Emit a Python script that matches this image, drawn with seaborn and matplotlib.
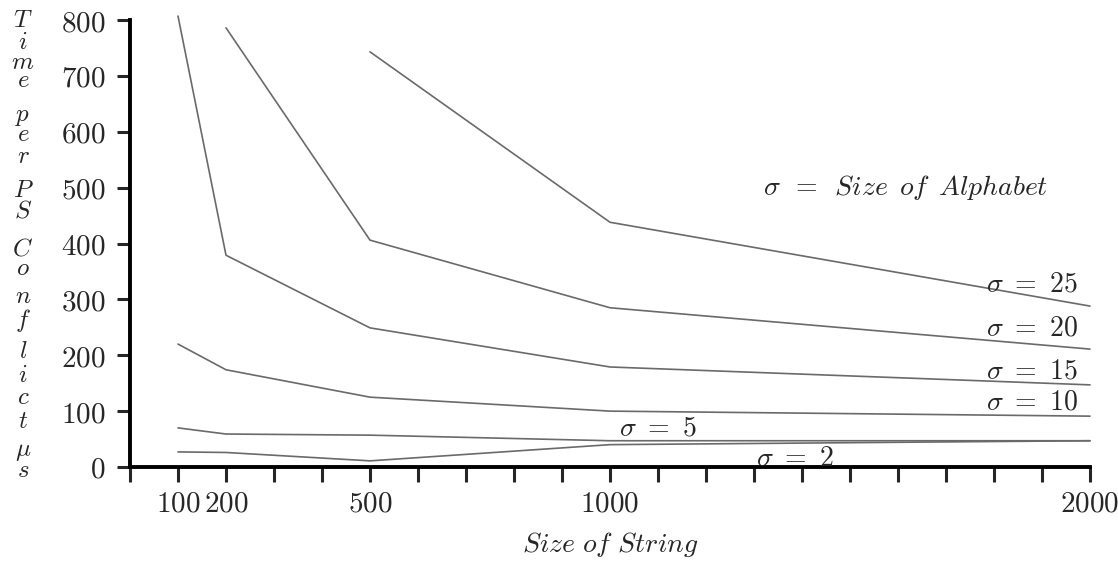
import numpy as np
import pandas as pd
import seaborn as sns
import matplotlib
matplotlib.use('Agg')
import matplotlib.pyplot as plt
from matplotlib.ticker import FuncFormatter, MultipleLocator

# values (time per PS conflict, microseconds)
sizes = [100, 200, 500, 1000, 2000]
sigma25 = [np.nan, np.nan, 743, 438, 288]
sigma20 = [np.nan, 786, 406, 285, 211]
sigma15 = [807, 379, 249, 179, 147]
sigma10 = [220, 174, 125, 100, 91]
sigma5 = [70, 59, 57, 47, 47]
sigma2 = [27, 26, 11, 40, 47]
sigmas = [25, 20, 15, 10, 5, 2]
xtick_labels = [100, 200, 500, 1000, 2000]

df = pd.DataFrame({'size': sizes * 6,
                   'sigma': np.repeat(sigmas, len(sizes)),
                   'time': sigma25 + sigma20 + sigma15 + sigma10 + sigma5 + sigma2}).dropna()

sns.set_style('white')
plt.rcParams['mathtext.fontset'] = 'cm'
plt.rcParams['font.family'] = ['DejaVu Sans']

fig = plt.figure(figsize=(11.18, 5.65), dpi=100)
ax = fig.add_axes([130/1118, 98/565, 960/1118, 447/565])

sns.lineplot(data=df, x='size', y='time', hue='sigma', units='sigma', estimator=None,
             palette=['#6a6a6a'] * 6, legend=False, lw=1.2, ax=ax, clip_on=False)

ax.set_xlim(0, 2000)
ax.set_ylim(0, 800)
ax.xaxis.set_major_locator(MultipleLocator(100))
ax.yaxis.set_major_locator(MultipleLocator(100))
ax.xaxis.set_major_formatter(FuncFormatter(lambda v, p: '$%d$' % v if int(round(v)) in xtick_labels else ''))
ax.yaxis.set_major_formatter(FuncFormatter(lambda v, p: '$%d$' % v))
ax.tick_params(axis='x', direction='out', length=10.5, width=2.2, pad=6, labelsize=21, bottom=True)
ax.tick_params(axis='y', direction='out', length=9.5, width=2.2, pad=8, labelsize=21, left=True)
for s in ['top', 'right']:
    ax.spines[s].set_visible(False)
for s in ['left', 'bottom']:
    ax.spines[s].set_linewidth(2.8)
    ax.spines[s].set_color('black')
ax.set_xlabel(r'$Size\ of\ String$', fontsize=20, labelpad=9)
ax.set_ylabel('')

# curve labels
lab_kw = dict(fontsize=20, ha='right', va='center')
ax.text(1975, 329, r'$\sigma\ =\ 25$', **lab_kw)
ax.text(1975, 249, r'$\sigma\ =\ 20$', **lab_kw)
ax.text(1975, 173, r'$\sigma\ =\ 15$', **lab_kw)
ax.text(1975, 118, r'$\sigma\ =\ 10$', **lab_kw)
ax.text(1100, 70, r'$\sigma\ =\ 5$', fontsize=20, ha='center', va='center')
ax.text(1385, 16, r'$\sigma\ =\ 2$', fontsize=20, ha='center', va='center')
ax.text(1615, 501, r'$\sigma\ \,=\ \,Size\ \,of\ \,Alphabet$', fontsize=20, ha='center', va='center')

# stacked y label
ychars = ['T', 'i', 'm', 'e', 'p', 'e', 'r', 'P', 'S', 'C', 'o', 'n', 'f', 'l', 'i', 'c', 't', r'\mu', 's']
ypix = [20, 42, 62, 80, 116, 134, 156, 190, 211, 248, 268, 296, 320, 351, 375, 397, 421, 451, 470]
for ch, yp in zip(ychars, ypix):
    fig.text(23/1118, 1 - yp/565, '$%s$' % ch, fontsize=18, ha='center', va='center')

fig.savefig('out.png', dpi=100)
